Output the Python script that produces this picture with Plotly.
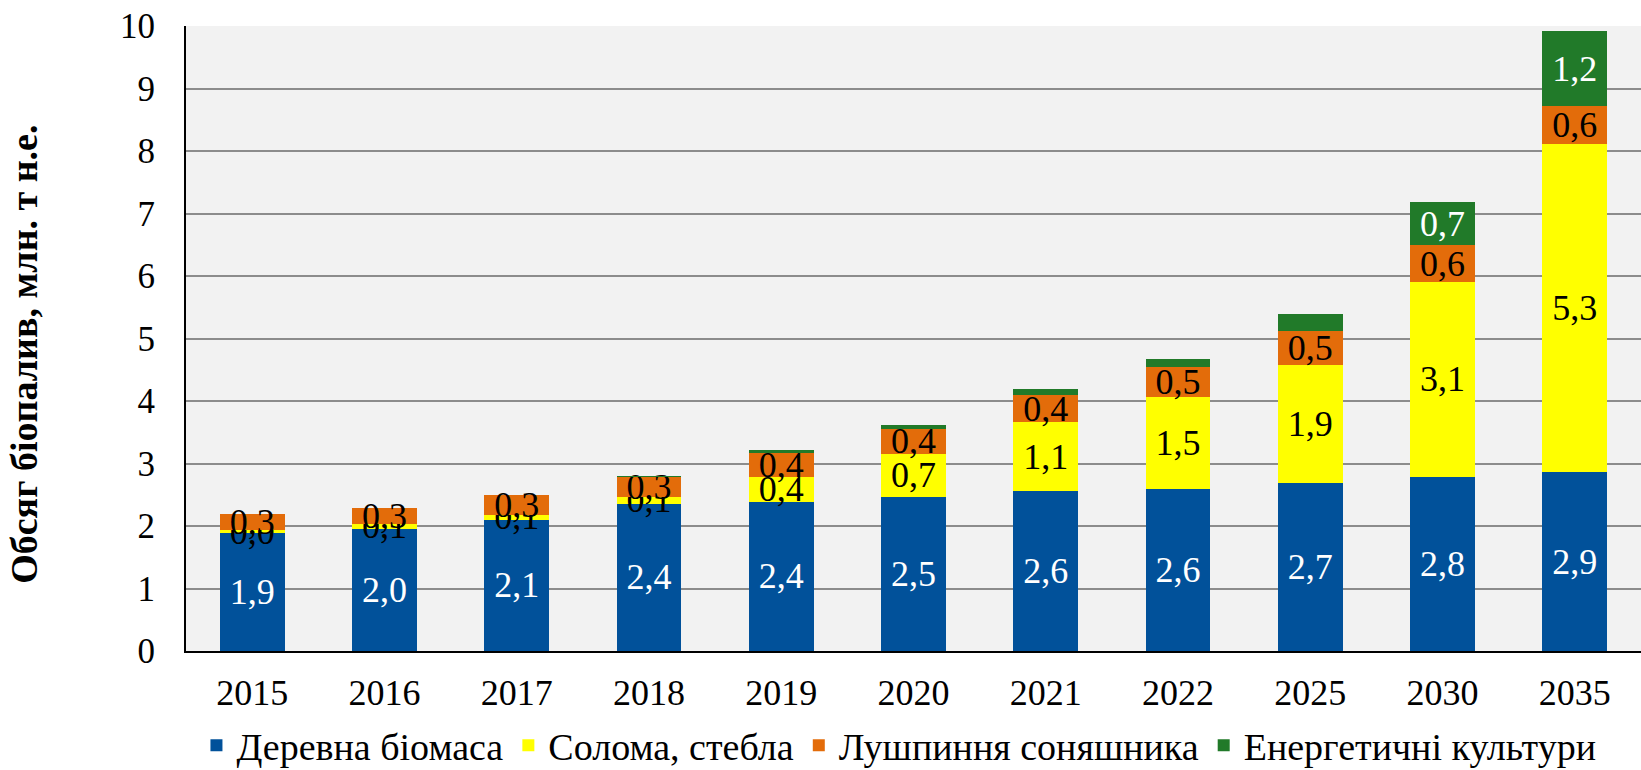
import plotly.graph_objects as go

years = ["2015", "2016", "2017", "2018", "2019", "2020", "2021", "2022", "2025", "2030", "2035"]
wood = [1.89, 1.96, 2.10, 2.36, 2.39, 2.46, 2.56, 2.59, 2.69, 2.79, 2.86]
straw = [0.04, 0.07, 0.08, 0.10, 0.40, 0.70, 1.10, 1.47, 1.89, 3.12, 5.26]
husk = [0.26, 0.26, 0.31, 0.33, 0.38, 0.40, 0.44, 0.49, 0.54, 0.58, 0.60]
energy = [0.00, 0.00, 0.00, 0.01, 0.05, 0.05, 0.09, 0.13, 0.27, 0.70, 1.20]

names = ["Деревна біомаса", "Солома, стебла", "Лушпиння соняшника", "Енергетичні культури"]
colors = ["#01519A", "#FFFF00", "#E36C0A", "#217A29"]
text_colors = ["white", "black", "black", "white"]
series = [wood, straw, husk, energy]
min_label = [0.0, 0.0, 0.0, 0.5]

FONT = "Liberation Serif"


def fmt(v):
    return f"{v:.1f}".replace(".", ",")


fig = go.Figure()
for name, vals, col, tcol, mn in zip(names, series, colors, text_colors, min_label):
    labels = [fmt(v) if v >= mn else "" for v in vals]
    fig.add_trace(go.Bar(
        x=years, y=vals, name=name,
        marker=dict(color=col, line=dict(width=0)),
        text=labels, textposition="inside", insidetextanchor="middle",
        textangle=0,
        textfont=dict(family=FONT, size=36, color=tcol),
        hoverinfo="skip",
    ))

fig.update_layout(
    barmode="stack",
    bargap=0.51,
    width=1641, height=770,
    margin=dict(l=186, r=0, t=26, b=119, autoexpand=False),
    paper_bgcolor="white",
    plot_bgcolor="#F2F2F2",
    uniformtext=dict(minsize=36, mode="show"),
    font=dict(family=FONT, size=34, color="black"),
    showlegend=True,
    legend=dict(
        orientation="h", traceorder="normal",
        x=0.490, xanchor="center", y=-0.101, yanchor="top",
        font=dict(family=FONT, size=38, color="black"),
        itemwidth=30, tracegroupgap=0,
    ),
    xaxis=dict(
        type="category",
        showline=True, linecolor="black", linewidth=2,
        ticks="", ticklabelstandoff=9,
        tickfont=dict(family=FONT, size=36, color="black"),
        showgrid=False, automargin=False,
    ),
    yaxis=dict(
        range=[0, 10], dtick=1,
        showline=True, linecolor="black", linewidth=2,
        showgrid=True, gridcolor="#8C8C8C", gridwidth=2,
        ticks="", ticklabelstandoff=22,
        tickfont=dict(family=FONT, size=35, color="black"),
        zeroline=False, automargin=False,
    ),
    annotations=[dict(
        text="<b>Обсяг біопалив, млн. т н.е.</b>",
        xref="paper", yref="paper", x=-0.1113, y=0.474,
        xanchor="center", yanchor="middle", textangle=-90, showarrow=False,
        font=dict(family=FONT, size=38, color="black"),
    )],
)

fig.write_html("out.html", config={"displayModeBar": False},
               post_script="document.body.style.margin='0';document.body.style.overflow='hidden';")
